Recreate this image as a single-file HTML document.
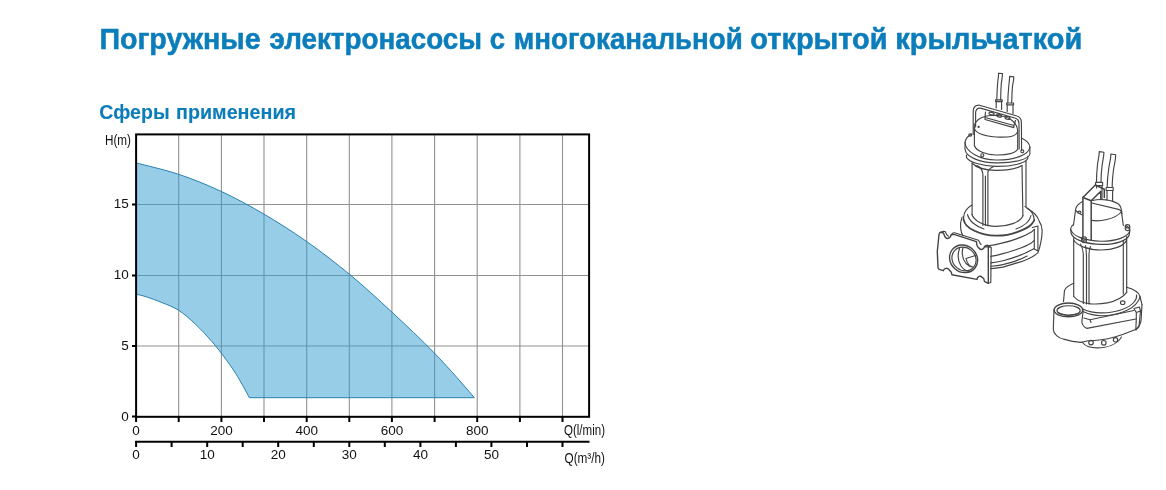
<!DOCTYPE html>
<html lang="ru">
<head>
<meta charset="utf-8">
<title>Погружные электронасосы</title>
<style>
html,body{margin:0;padding:0;background:#fff;}
body{width:1166px;height:490px;position:relative;overflow:hidden;font-family:"Liberation Sans",sans-serif;}
svg{position:absolute;left:0;top:0;}
.ttl text{font-size:30px;font-weight:bold;fill:#0c7dbb;stroke:#0c7dbb;stroke-width:0.55px;stroke-linejoin:round;}
.sub text{font-size:19.5px;font-weight:bold;fill:#0c7dbb;stroke:#0c7dbb;stroke-width:0.1px;stroke-linejoin:round;}
svg text{font-family:"Liberation Sans",sans-serif;font-size:13.5px;fill:#111;}
</style>
</head>
<body>
<svg id="chart" width="1166" height="490" viewBox="0 0 1166 490">
<g class="ttl" style="font-family:'Liberation Sans',sans-serif">
<text x="99.4" y="48.7" textLength="161.3" lengthAdjust="spacingAndGlyphs">Погружные</text>
<text x="269.5" y="48.7" textLength="212.5" lengthAdjust="spacingAndGlyphs">электронасосы</text>
<text x="489.7" y="48.7" textLength="15.3" lengthAdjust="spacingAndGlyphs">с</text>
<text x="513.8" y="48.7" textLength="229" lengthAdjust="spacingAndGlyphs">многоканальной</text>
<text x="750.3" y="48.7" textLength="137.3" lengthAdjust="spacingAndGlyphs">открытой</text>
<text x="895.3" y="48.7" textLength="187" lengthAdjust="spacingAndGlyphs">крыльчаткой</text>
</g>
<g class="sub">
<text x="99.3" y="118.6" textLength="70.3" lengthAdjust="spacingAndGlyphs">Сферы</text>
<text x="176" y="118.6" textLength="120" lengthAdjust="spacingAndGlyphs">применения</text>
</g>
<!-- grid -->
<g stroke="#929292" stroke-width="1.1" fill="none">
<path d="M178.7,135V416 M221.4,135V416 M264.0,135V416 M306.7,135V416 M349.3,135V416 M391.9,135V416 M434.6,135V416 M477.2,135V416 M519.9,135V416 M562.5,135V416"/>
<path d="M137,204.5H589 M137,275.5H589 M137,346H589"/>
</g>
<!-- area -->
<path id="area" d="M136.5,163.0 C143.5,164.9 164.5,169.6 178.6,174.3 C192.7,179.0 207.0,184.8 221.2,191.4 C235.4,198.0 249.7,205.8 263.9,214.1 C278.1,222.4 292.2,231.4 306.5,241.4 C320.8,251.4 335.2,262.5 349.5,274.3 C363.8,286.1 377.8,299.0 392.0,312.2 C406.2,325.4 420.9,339.2 434.6,353.3 C448.3,367.4 467.7,389.7 474.3,397.7 L249.3,397.7 C247.1,393.1 240.1,380.5 235.9,373.8 C231.7,367.1 228.0,362.2 224.0,356.8 C220.0,351.4 216.5,346.8 211.7,341.3 C206.9,335.9 200.9,329.3 195.4,324.1 C189.9,318.9 183.9,313.7 178.5,310.2 C173.1,306.7 168.1,305.1 162.7,302.9 C157.3,300.7 150.7,298.2 146.3,296.8 C141.9,295.4 138.1,294.6 136.5,294.2 Z" fill="#319bd1" fill-opacity="0.5"/>
<path d="M136.5,163.0 C143.5,164.9 164.5,169.6 178.6,174.3 C192.7,179.0 207.0,184.8 221.2,191.4 C235.4,198.0 249.7,205.8 263.9,214.1 C278.1,222.4 292.2,231.4 306.5,241.4 C320.8,251.4 335.2,262.5 349.5,274.3 C363.8,286.1 377.8,299.0 392.0,312.2 C406.2,325.4 420.9,339.2 434.6,353.3 C448.3,367.4 467.7,389.7 474.3,397.7 L249.3,397.7 C247.1,393.1 240.1,380.5 235.9,373.8 C231.7,367.1 228.0,362.2 224.0,356.8 C220.0,351.4 216.5,346.8 211.7,341.3 C206.9,335.9 200.9,329.3 195.4,324.1 C189.9,318.9 183.9,313.7 178.5,310.2 C173.1,306.7 168.1,305.1 162.7,302.9 C157.3,300.7 150.7,298.2 146.3,296.8 C141.9,295.4 138.1,294.6 136.5,294.2" fill="none" stroke="#2882af" stroke-width="1"/>
<!-- frame -->
<rect x="136.1" y="134.4" width="453" height="282.4" fill="none" stroke="#000" stroke-width="2"/>
<!-- ticks -->
<g stroke="#000" stroke-width="2">
<path d="M136.1,416V422 M178.7,416V422 M221.4,416V422 M264.0,416V422 M306.7,416V422 M349.3,416V422 M391.9,416V422 M434.6,416V422 M477.2,416V422 M519.9,416V422 M562.5,416V422"/>
<path d="M132,416.5H137 M132,346H137 M132,275.5H137 M132,204.5H137"/>
<path d="M135.1,441.8H589.5"/>
<path d="M136.1,441V447 M171.6,441V447 M207.2,441V447 M242.7,441V447 M278.2,441V447 M313.8,441V447 M349.3,441V447 M384.8,441V447 M420.4,441V447 M455.9,441V447 M491.4,441V447 M527.0,441V447 M562.5,441V447"/>
</g>
<g text-anchor="middle">
<text x="136.1" y="434.7">0</text><text x="221.4" y="434.7">200</text><text x="306.7" y="434.7">400</text><text x="391.9" y="434.7">600</text><text x="477.2" y="434.7">800</text>
<text x="136.1" y="458.7">0</text><text x="207.2" y="458.7">10</text><text x="278.2" y="458.7">20</text><text x="349.3" y="458.7">30</text><text x="420.4" y="458.7">40</text><text x="491.4" y="458.7">50</text>
</g>
<g text-anchor="end">
<text x="128.7" y="420.5">0</text><text x="128.7" y="349.5">5</text><text x="128.7" y="279">10</text><text x="128.7" y="208">15</text>
</g>
<text style="font-size:14.3px" x="564" y="434.7" textLength="41" lengthAdjust="spacingAndGlyphs">Q(l/min)</text>
<text style="font-size:14.5px" x="564.5" y="462.6" textLength="40.5" lengthAdjust="spacingAndGlyphs">Q(m³/h)</text>
<text style="font-size:14.5px" x="105" y="145" textLength="26" lengthAdjust="spacingAndGlyphs">H(m)</text>
<!-- PUMP1 -->
<g id="pump1" fill="none" stroke="#444" stroke-width="1.15" stroke-linecap="round" stroke-linejoin="round">
<!-- cables -->
<path d="M998.6,73.2 C998.6,77 997.9,80 997.6,83.5 C997.2,89 996.9,94 996.8,99.9 M1002.5,73.6 C1002.5,77 1001.7,80 1001.3,83.5 C1000.9,89 1000.7,94 1000.7,99.9 M998.6,73.2 L1002.5,73.6"/>
<path d="M1009.6,76.4 C1009.6,80 1009,83.5 1008.7,87 C1008.2,92 1007.9,97 1007.8,103 M1013.8,76.9 C1013.8,80.5 1012.8,83.5 1012.4,87 C1012,92 1011.8,97 1011.7,103 M1009.6,76.4 L1013.8,76.9"/>
<path d="M995.6,99.9 H1002.2 V101.6 H995.6 Z M996.2,101.6 V108 M1001.6,101.6 V109.5"/>
<path d="M1006.6,103 H1013.6 V104.8 H1006.6 Z M1007.2,104.8 V111.5 M1013,104.8 V113.5"/>
<!-- handle -->
<path d="M973.2,134.5 V111 Q973.6,105 979.5,105.2 L1016.2,115.8 Q1021.2,117 1021.4,122.5 L1021.6,150.3"/>
<path d="M975.6,127 V112.5 Q976,107.9 980.3,108.1 L1014.8,118 Q1018.8,119 1019,123.5 L1019.2,149"/>
<!-- gland block -->
<path d="M985.5,112 L985,117.5 L1014,125.5 L1015.5,120.5 M985,117.5 L985,119.5 L1013.8,127.6 L1014,125.5"/>
<ellipse cx="991.5" cy="113.6" rx="2.6" ry="1.3" transform="rotate(15 991.5 113.6)"/>
<ellipse cx="999" cy="115.6" rx="2.6" ry="1.3" transform="rotate(15 999 115.6)"/>
<ellipse cx="1007.5" cy="118" rx="2.6" ry="1.3" transform="rotate(15 1007.5 118)"/>
<!-- cap -->
<path d="M974.1,127 C975,119.5 983,115.2 994.9,115.2 C1008,115.6 1017.3,121.5 1017.7,131 C1016.5,137 1008,137.6 996.1,137 C984,136 974.5,133 974.1,127 Z"/>
<path d="M974.4,127 V145.5 M1017.7,131 V149"/>
<path d="M974.4,145.5 C976,151 986,154.6 996.5,155 C1007,155.2 1016,153 1017.7,149"/>
<!-- flange -->
<path d="M971.5,134 C967.5,136.5 965.2,139.5 965,142.5 C965.5,152 980,159.8 996.1,160 C1014,160.3 1029,155 1029.9,147 C1029.5,143.5 1026,140.2 1021.8,138.2"/>
<path d="M965,142.5 V149 C965.5,157 980,162.7 996.1,162.9 C1014,163.2 1029,159 1029.9,154 V147"/>
<path d="M966.5,155 V157.5 C969,162 982,166.2 996.1,166.4 C1011,166.6 1025,163.8 1027.8,158.5 V156.3"/>
<circle cx="982.3" cy="155.2" r="1.5"/>
<circle cx="1022.3" cy="151.3" r="1.5"/>
<circle cx="978.6" cy="126.8" r="0.6"/><ellipse cx="970.3" cy="135" rx="1.5" ry="1.2"/>
<!-- body -->
<path d="M972.1,163 V214.3 M1022,165.5 L1022.9,215.7 M1026,161 V206.4"/>
<path d="M972.1,163 C976,167.5 986,170.2 996,170.4 C1006,170.5 1017,168.5 1022,165.5"/>
<path d="M982.9,174 V225.5 M987.9,172 V225.7 M985.4,176 V225.5 M982.9,174 C982.3,169 980,167 977,165.5 M987.9,172 C988.6,169 991,167.5 994,166.5"/>
<path d="M971.8,214.3 C974,221 984,226.2 995.7,226.4 C1008,226.5 1020,222.5 1023,215.7"/>
<!-- collar -->
<path d="M971.8,205 C967,208 964,212 963.6,217.1 M1025,206.4 C1030.5,209.5 1034,214 1034.3,220"/>
<path d="M963.6,219.3 C964.5,224 968,228 974.3,230.7 C981,233.8 988,235.5 995.7,235.7 C1003,235.8 1011,234.5 1017.1,232.1 C1024,229.5 1029,227 1031.4,224.3 C1033,222.5 1034,221 1034.3,220" stroke-width="1.8"/>
<path d="M963.6,217.1 V219.3"/>
<path d="M967.5,214.5 C969,221 976,226.5 984,229 M1031,215.5 C1030,221 1024,226 1016,229"/>
<!-- volute -->
<path d="M962.1,217.1 C960.5,221 960.3,225 960.7,228.6 C961,231.5 961.8,234 962.9,235.7"/>
<path d="M1027.1,208.6 C1033,211.5 1037.5,216 1039.3,221.4 C1041,224 1042,227 1042.1,230 C1042.3,235 1041.5,239 1040.7,242.9 C1040,246.5 1039,250 1037.9,252.9 C1033,257 1026,260.5 1017.1,262.9 C1012,264.7 1007,266 1002.9,267.1 C998,268 994,268.5 990.7,268.6"/>
<path d="M984.5,246.3 C991,245.5 997,244.5 1002.9,242.9 C1008,241.8 1013,240.2 1017.1,238.6 C1023,236.5 1028,234.3 1031.4,232.1 L1034.3,229.3"/>
<path d="M990.7,256.4 C995,255.7 999,254.7 1002.9,253.6 C1008,252.3 1013,250.9 1017.1,249.3 C1023,247.2 1028,245 1031.4,242.9 L1034.3,240.5"/>
<path d="M990.7,262.9 C995,262.4 999,261.7 1002.9,260.7 C1008,259.5 1013,258 1017.1,256.4 C1023,254.3 1028,252 1031.4,250 L1034.3,248.6"/>
<path d="M990.7,266.3 C995,266 999,265.6 1002.9,264.6 C1008,263.3 1013,262 1017.1,260.4 C1021,259 1024.5,257.5 1027.1,256"/>
<path d="M1034.3,229.3 V249 M1037.9,228.5 V251 M1032.3,227.5 L1037.9,226 L1037.9,228.5 M1034.3,249 L1037.9,251"/>
<!-- plate -->
<path stroke-width="1.4" d="M939,234.3 C939.3,232.8 940,232.2 940.8,232.3 L943.6,233 C944.2,235.5 944.8,237.6 946.6,238.3 C948.6,238.8 950.5,237.5 951.2,234.9 L953.9,234.3 L976.4,241.6 C976.6,244.5 977,246.5 978.4,247.5 C979.6,249.3 980.8,249.7 981.7,249.5 C983.3,249.2 984.2,248.2 984.4,246.9 L988.3,246.9 L988.3,283.3 L984.4,281.3 C984.3,279.3 983.6,278 982.4,277.4 C981.3,276.4 980,276.2 979,276.4 C977.6,277 977,278.2 977,279.4 L951.9,274.7 C951.9,273 951.2,271.6 949.9,270.7 C948.8,269 947.6,268.2 946.6,268.1 C944.8,268.3 943.6,269.5 943.3,270.7 L939.3,269.4 C938.5,268.8 938,268.2 938,267.4 L937.3,251.5 Z"/>
<path d="M988.3,246.9 L991.2,247.5 L990.8,282.5 L988.3,283.3 M951.2,234.9 C952,233.3 953,232.6 954.5,232.8 L978.5,240.3 C979.5,242 980,243.5 981,244.5 M984.4,246.9 C985.3,245.6 986.5,245 987.8,245.2 L991.2,247.5 M940.8,232.3 L943.5,231.2 L945.5,231.8 C946,234 947,235.6 948.5,236.2"/>
<!-- pipe -->
<ellipse stroke-width="1.4" cx="963.6" cy="258.8" rx="14.6" ry="13.2" transform="rotate(40 963.6 258.8)"/>
<ellipse cx="964" cy="259" rx="12.6" ry="11.3" transform="rotate(40 964 259)"/>
<path d="M959.5,248.5 C957.5,254 958,261 961,266 C963,269 966,271 969.5,271.5"/>
<path d="M963,247.5 C961.5,253 962.5,259 966,263.5 C968,265.5 970.5,266.8 973,267"/>
<path d="M966,258.5 L975.5,255.5 M966,258.5 C966.5,261 967.5,263.5 969,265"/>
</g>
<!-- /PUMP1 -->
<!-- PUMP2 -->
<g id="pump2" fill="none" stroke="#444" stroke-width="1.15" stroke-linecap="round" stroke-linejoin="round">
<!-- cables -->
<path d="M1099.3,151.6 C1099.3,156 1098,160 1097.5,164.5 C1096.8,171 1096.5,176 1096.5,182.3 M1103.9,152.2 C1103.9,157 1102.6,161 1102,166.5 C1101.3,172 1101,177 1101,182.3 M1099.3,151.6 L1103.9,152.2"/>
<path d="M1110.9,154 C1110.9,159 1109.5,163 1108.8,168 C1107.8,175 1107.2,181 1107.2,187.5 M1115.7,154.7 C1115.7,160 1114.4,164 1113.6,169 C1112.7,176 1112.2,182 1112.2,187.5 M1110.9,154 L1115.7,154.7"/>
<path d="M1095.6,182.3 H1102.6 V185.6 H1095.6 Z M1096.6,185.6 V188 M1102,185.6 V199"/>
<path d="M1106.2,187.5 H1113.2 V190.5 H1106.2 Z M1107,190.5 V200 M1112.6,190.5 V201"/>
<!-- handle -->
<path stroke-width="1.5" d="M1082.9,197.5 L1095.3,185 L1104.3,189.3 L1104.3,197.5 M1091.2,200.8 L1100.8,191.3 L1100.8,199.5 M1082.9,197.5 L1091.2,200.8"/>
<path stroke-width="1.5" d="M1082.9,197.5 V237 M1091.2,200.8 V240"/>
<!-- dome -->
<path d="M1082.7,201.5 C1078.5,203.5 1076.3,206 1075.7,209 L1073.5,225 M1091.8,203 L1118.4,209.4 C1120.5,210 1121.8,212 1121.8,214 L1123.3,225.5"/>
<path d="M1092.5,200.5 C1100,198.5 1112,199.5 1118.4,204 C1120.5,205.5 1121.6,207.5 1121.8,214"/>
<path d="M1091.8,220.4 C1099,221.8 1115,219.5 1121.8,211.5"/>
<path d="M1075.5,210 C1077,212.5 1079.5,214 1082.7,215"/>
<ellipse cx="1079.3" cy="212.2" rx="1.6" ry="1.1"/>
<!-- flange -->
<path d="M1073.5,224.5 C1071.5,226 1070.6,227.5 1070.6,229 C1072,236 1085,241 1101.2,241.2 C1116,241.3 1128.5,237 1129.8,230.6 C1129.8,228.5 1128,226.5 1125.5,225.5"/>
<path d="M1070.6,229 L1071.2,233.5 C1073,239.5 1086,244.2 1101.2,244.4 C1116,244.6 1127.5,240.5 1129.2,235 L1129.8,230.6"/>
<path d="M1073.7,240 C1077,245.8 1088,249.8 1101.2,250 C1113,250 1124,246.3 1126.7,240"/>
<ellipse cx="1127.5" cy="226.3" rx="2.2" ry="1.7"/>
<path d="M1125.3,226.5 V229.5 C1126,231 1129,231 1129.7,229.5 V226.5"/>
<ellipse cx="1084" cy="238.5" rx="2.3" ry="1.7"/>
<path d="M1081.7,238.7 V241.5 C1082.5,243 1085.5,243 1086.3,241.5 V238.7"/>
<!-- body -->
<path d="M1073.7,237.5 V296.5 M1126.7,236.5 V292.5 M1123.3,241 V294"/>
<path d="M1083.3,254 V303.5 M1086.5,256 V304 M1089,254 V304 M1083.3,254 C1083,249.5 1082,246.5 1080.5,244.2 M1089,254 C1089.2,250.5 1089.8,248 1090.5,246.6 M1086.5,256 C1086.3,251 1086,248 1085.5,245.5"/>
<path d="M1073.7,296.5 C1077,300.5 1083,303.2 1091,303.9 C1098,304.3 1103,303.8 1107.3,302.9 C1116,301 1123,297.5 1126.7,292.4"/>
<!-- base ring -->
<path d="M1073.7,283.3 C1068.5,285.5 1065.5,288 1064.5,290.4 L1063.5,301.5 M1126.7,287.3 C1133,289 1139,292.5 1140,296.5 L1142,304.7"/>
<path d="M1082.9,309 C1088,311.5 1094,312.8 1101.2,312.9 C1109,313 1116,311.8 1121.6,309.8 C1128,307.5 1132,305 1134.5,301.5 C1136.5,299 1137,297 1136.5,295"/>
<path d="M1083.5,311.8 C1089,314.2 1095,315.6 1101.2,315.7 C1109,315.8 1117,314.3 1123,312 C1130,309.3 1135,306 1137.5,302 C1139.2,299.5 1140,298 1140,296.5"/>
<ellipse cx="1122.7" cy="302.7" rx="2.2" ry="1.8"/>
<!-- outlet pipe -->
<ellipse stroke-width="1.4" cx="1068.4" cy="309.9" rx="14.3" ry="6.9"/>
<ellipse cx="1068.6" cy="310.6" rx="11.6" ry="4.9"/>
<path d="M1058.5,312.5 C1062,315.2 1071,316 1078,313.5"/>
<path d="M1054,309.8 L1053.3,329.2 C1053.5,334 1058,338 1064.5,339.4 C1070,341 1076,342 1080.8,342.4 M1083.2,310.8 L1081.8,322 C1082.5,325.5 1084.5,327.5 1086.9,328.4 L1135.9,319"/>
<path d="M1083.9,318 L1090,319.8 L1133.9,310.5 M1090,319.8 L1091,322.5"/>
<!-- volute right -->
<path d="M1142,304.7 L1141,321 C1140,325 1138.5,327.5 1135.9,329.2 C1134,330.2 1132,331 1129.8,331.8 C1125,333.8 1120,335.5 1115.5,336.8 C1111,338 1106,339.2 1101.2,339.8 C1096,340.5 1091,340.8 1086.9,341 L1080.8,342.4"/>
<path d="M1133.9,308.5 L1139.5,307 L1140.5,311 L1139,326.5 L1135.8,330 L1136.3,319 M1133.9,308.5 L1136.3,312.5 L1136.3,319 M1136.3,312.5 L1140.5,311"/>
<!-- strainer -->
<path d="M1082.5,342.5 C1085,346 1091,347.9 1097.1,347.9 C1107,347.9 1117,344.5 1121.5,337"/>
<circle cx="1091" cy="342.6" r="2.3"/><circle cx="1103.8" cy="342.8" r="2.3"/><circle cx="1115.5" cy="339.8" r="2.2"/>
</g>
<!-- /PUMP2 -->
</svg>
</body>
</html>
